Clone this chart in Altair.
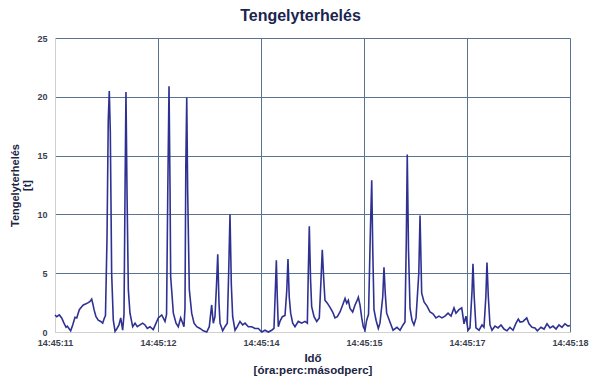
import altair as alt
import pandas as pd

TITLE = "Tengelyterhelés"
Y_TITLE = ["Tengelyterhelés", "[t]"]
X_TITLE = ["Idő", "[óra:perc:másodperc]"]
TICK_LABELS = ["14:45:11", "14:45:12", "14:45:14", "14:45:15", "14:45:17", "14:45:18"]

# position along the time axis, in units of tick intervals (0 = 14:45:11, 5 = 14:45:18)
X_POS = [
    0.000, 0.017, 0.042, 0.065, 0.087, 0.107, 0.119, 0.139, 0.152, 0.172,
    0.194, 0.211, 0.236, 0.259, 0.275, 0.301, 0.323, 0.340, 0.356, 0.366,
    0.379, 0.398, 0.420, 0.444, 0.463, 0.476, 0.490, 0.505, 0.517, 0.527,
    0.537, 0.550, 0.566, 0.583, 0.602, 0.621, 0.638, 0.657, 0.670, 0.680,
    0.689, 0.699, 0.712, 0.728, 0.754, 0.777, 0.799, 0.825, 0.851, 0.874,
    0.896, 0.922, 0.954, 0.981, 1.003, 1.036, 1.068, 1.083, 1.095, 1.107,
    1.117, 1.123, 1.149, 1.175, 1.197, 1.220, 1.240, 1.252, 1.262, 1.270,
    1.279, 1.288, 1.304, 1.327, 1.350, 1.376, 1.408, 1.440, 1.473, 1.498,
    1.521, 1.537, 1.553, 1.568, 1.580, 1.592, 1.602, 1.628, 1.650, 1.673,
    1.686, 1.699, 1.712, 1.725, 1.748, 1.770, 1.796, 1.822, 1.845, 1.877,
    1.910, 1.942, 1.974, 2.007, 2.039, 2.071, 2.104, 2.126, 2.139, 2.149,
    2.158, 2.168, 2.184, 2.207, 2.233, 2.250, 2.262, 2.274, 2.288, 2.308,
    2.330, 2.362, 2.395, 2.427, 2.450, 2.459, 2.469, 2.481, 2.492, 2.515,
    2.541, 2.566, 2.583, 2.595, 2.609, 2.621, 2.644, 2.670, 2.696, 2.718,
    2.741, 2.767, 2.793, 2.816, 2.832, 2.848, 2.864, 2.890, 2.913, 2.929,
    2.945, 2.961, 2.978, 2.993, 3.010, 3.026, 3.044, 3.063, 3.075, 3.085,
    3.097, 3.117, 3.139, 3.155, 3.182, 3.194, 3.207, 3.220, 3.252, 3.282,
    3.320, 3.350, 3.379, 3.398, 3.411, 3.420, 3.432, 3.447, 3.466, 3.485,
    3.505, 3.532, 3.544, 3.560, 3.583, 3.612, 3.641, 3.670, 3.699, 3.728,
    3.757, 3.786, 3.816, 3.845, 3.874, 3.893, 3.922, 3.949, 3.971, 3.990,
    4.010, 4.029, 4.049, 4.058, 4.070, 4.087, 4.117, 4.146, 4.165, 4.183,
    4.194, 4.207, 4.223, 4.243, 4.272, 4.301, 4.330, 4.359, 4.388, 4.417,
    4.447, 4.476, 4.498, 4.515, 4.544, 4.580, 4.602, 4.631, 4.660, 4.683,
    4.718, 4.748, 4.777, 4.806, 4.835, 4.864, 4.893, 4.922, 4.951, 4.981,
    5.000,
]

# axle load [t]
LOAD = [
    1.45, 1.3, 1.45, 1.2, 0.75, 0.4, 0.5, 0.25, 0.1, 0.6,
    1.25, 1.2, 1.9, 2.15, 2.3, 2.4, 2.5, 2.6, 2.8, 2.45,
    1.9, 1.3, 1.0, 0.9, 0.75, 1.1, 1.4, 8.0, 18.0, 20.5,
    17.0, 5.0, 1.0, 0.05, 0.3, 0.6, 1.2, 0.15, 1.5, 12.0,
    20.4, 12.0, 3.6, 1.6, 0.45, 0.75, 0.45, 0.6, 0.75, 0.6,
    0.3, 0.45, 0.2, 0.75, 1.2, 1.45, 0.9, 1.5, 12.0, 20.9,
    12.0, 4.7, 1.6, 0.75, 0.45, 1.2, 0.75, 0.45, 2.0, 14.0,
    19.95, 12.0, 3.6, 1.6, 0.75, 0.45, 0.3, 0.1, 0.0, 0.45,
    2.3, 0.75, 1.3, 4.0, 6.6, 2.5, 0.75, 0.1, 0.45, 0.75,
    5.0, 10.0, 4.0, 1.3, 0.15, 0.45, 0.9, 0.6, 0.75, 0.45,
    0.45, 0.3, 0.3, 0.0, 0.15, 0.0, 0.15, 0.3, 3.5, 6.1,
    3.0, 0.45, 0.9, 1.3, 1.4, 3.5, 6.2, 3.0, 1.6, 0.75,
    0.45, 0.9, 0.75, 0.9, 0.75, 5.0, 9.0, 4.5, 2.15, 1.3,
    0.9, 1.2, 4.5, 7.0, 4.5, 2.7, 2.45, 2.1, 1.7, 1.2,
    1.3, 1.7, 2.3, 2.85, 2.45, 2.7, 2.0, 1.7, 2.3, 2.6,
    2.95, 2.3, 1.2, 0.45, 0.15, 1.0, 1.5, 9.0, 12.9, 7.0,
    1.9, 1.0, 0.3, 0.75, 3.0, 5.5, 3.2, 1.6, 0.85, 0.15,
    0.4, 0.15, 0.6, 0.85, 8.0, 15.1, 7.0, 2.0, 1.0, 0.6,
    1.2, 5.0, 9.9, 3.3, 2.55, 2.2, 1.7, 1.55, 1.2, 1.35,
    1.2, 1.35, 1.6, 1.35, 2.05, 1.6, 1.9, 2.05, 0.7, 1.35,
    0.15, 0.35, 3.5, 5.8, 3.0, 0.35, 0.15, 0.6, 0.4, 3.0,
    5.9, 3.0, 0.6, 0.15, 0.5, 0.35, 0.6, 0.25, 0.1, 0.4,
    0.15, 0.75, 1.1, 0.85, 0.9, 1.2, 0.7, 0.4, 0.35, 0.1,
    0.4, 0.25, 0.7, 0.35, 0.5, 0.25, 0.6, 0.4, 0.7, 0.5,
    0.55,
]

df = pd.DataFrame({"x": X_POS, "load": LOAD})

label_expr = "[" + ",".join(f"'{t}'" for t in TICK_LABELS) + "][round(datum.value)]"

GRID = "#5b7391"
EDGE = "#d0d0d0"
FONT = "Liberation Sans"

chart = (
    alt.Chart(df)
    .mark_line(color="#2f3192", strokeWidth=1.6)
    .encode(
        x=alt.X(
            "x:Q",
            scale=alt.Scale(domain=[0, 5], nice=False, zero=False),
            axis=alt.Axis(
                values=list(range(len(TICK_LABELS))),
                labelExpr=label_expr,
                title=X_TITLE,
                grid=True,
                gridColor={"condition": {"test": "datum.value === 0", "value": EDGE}, "value": GRID},
                gridOpacity=1,
                ticks=False,
                domainColor=EDGE,
                labelFont=FONT,
                labelFontSize=9,
                labelFontWeight="bold",
                labelColor="#3b3f4f",
                labelPadding=6,
                labelFlush=False,
                labelOverlap=False,
                titleFont=FONT,
                titleFontSize=11.5,
                titleFontWeight="bold",
                titleColor="#1b2444",
                titleLineHeight=12,
                titlePadding=5,
            ),
        ),
        y=alt.Y(
            "load:Q",
            scale=alt.Scale(domain=[0, 25], nice=False),
            axis=alt.Axis(
                values=[0, 5, 10, 15, 20, 25],
                title=Y_TITLE,
                grid=True,
                gridColor={"condition": {"test": "datum.value === 0", "value": EDGE}, "value": GRID},
                gridOpacity=1,
                ticks=False,
                domainColor=EDGE,
                labelFont=FONT,
                labelFontSize=9,
                labelFontWeight="bold",
                labelColor="#3b3f4f",
                labelPadding=8,
                titleFont=FONT,
                titleFontSize=11,
                titleFontWeight="bold",
                titleColor="#1b2444",
                titleLineHeight=12,
                titlePadding=4,
            ),
        ),
    )
    .properties(
        width=515,
        height=294,
        title=alt.TitleParams(
            TITLE, fontSize=16, fontWeight="bold", color="#1b2550", font=FONT, dx=-12, offset=10
        ),
        autosize=alt.AutoSizeParams(type="none"),
        padding={"left": 47, "top": 30, "right": 22, "bottom": 52},
    )
    .configure_view(stroke=None)
)

chart.save("out.html", embed_options={"renderer": "svg", "actions": False})
